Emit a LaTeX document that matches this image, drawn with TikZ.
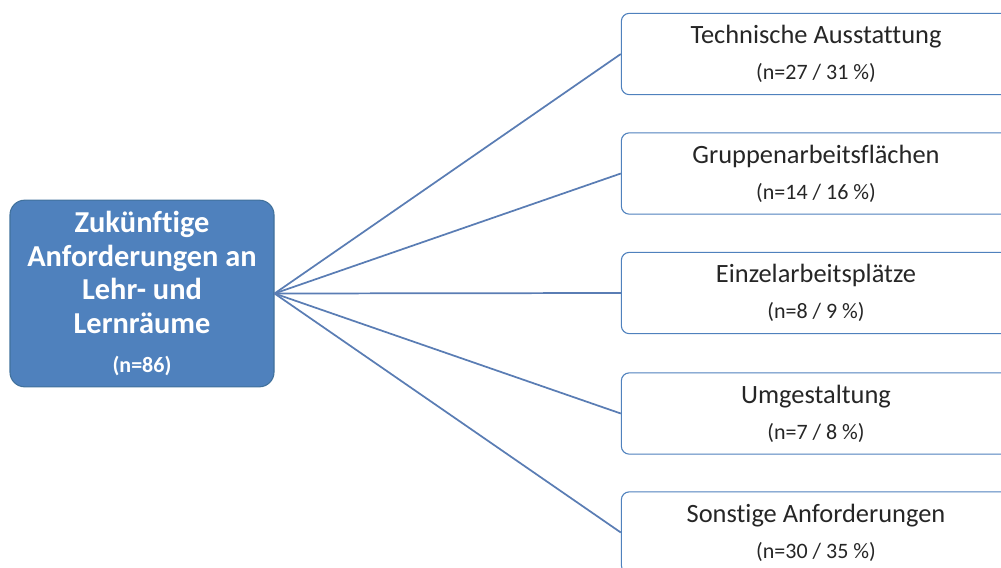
\documentclass[tikz,border=0pt]{standalone}
\usepackage{fontspec}
\setmainfont[Ligatures={NoCommon}]{Carlito}
\usepackage{xcolor}
\usepackage{tikz}

\definecolor{boxblue}{HTML}{4F81BD}
\definecolor{boxedge}{HTML}{41719C}
\definecolor{linkblue}{HTML}{5A7DB4}

\tikzset{
  rootbox/.style={draw=boxedge, fill=boxblue, rounded corners=11pt, line width=0.8pt,
    minimum width=198pt, minimum height=140pt, align=center, text=white,
    font=\fontsize{22.8}{25.3}\selectfont\bfseries, inner sep=0pt},
  leafbox/.style={draw=boxblue, fill=white, rounded corners=6pt, line width=0.8pt,
    minimum width=292pt, minimum height=61pt, align=center, text=black!85,
    font=\fontsize{19.8}{22}\selectfont, inner sep=0pt},
  link/.style={draw=linkblue, line width=1.3pt}
}

\newcommand{\subline}[1]{\\[5pt]{\fontsize{16.5}{18}\selectfont #1}}

\begin{document}
\begin{tikzpicture}[x=0.75pt, y=-0.75pt]

  \useasboundingbox (0,0) rectangle (1001,568);
  \clip (0,0) rectangle (1001,568);

  \node[rootbox] (root) at (142,293.5)
    {Zukünftige\\Anforderungen an\\Lehr- und\\Lernräume\\[4pt]{\fontsize{16.5}{18}\selectfont (n=86)}};

  \node[leafbox] (technik) at (816,54) {Technische Ausstattung\subline{(n=27 / 31 \%)}};
  \node[leafbox] (gruppe) at (816,173.5) {Gruppenarbeitsflächen\subline{(n=14 / 16 \%)}};
  \node[leafbox] (einzel) at (816,293) {Einzelarbeitsplätze\subline{(n=8 / 9 \%)}};
  \node[leafbox] (umbau) at (816,413.5) {Umgestaltung\subline{(n=7 / 8 \%)}};
  \node[leafbox] (sonst) at (816,532.5) {Sonstige Anforderungen\subline{(n=30 / 35 \%)}};

  \draw[link] (root.east) -- (technik.west);
  \draw[link] (root.east) -- (gruppe.west);
  \draw[link] (root.east) -- (einzel.west);
  \draw[link] (root.east) -- (umbau.west);
  \draw[link] (root.east) -- (sonst.west);

\end{tikzpicture}
\end{document}
